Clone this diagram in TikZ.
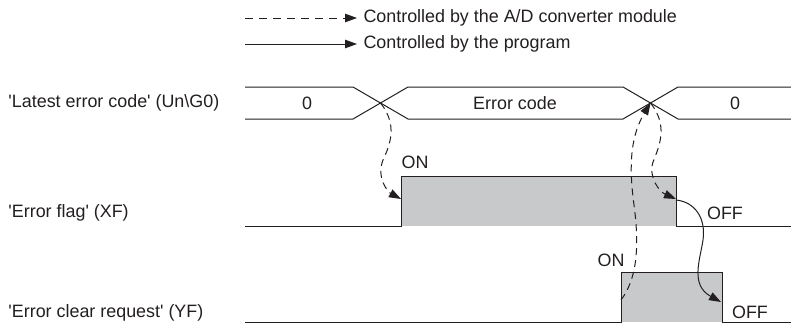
\documentclass[tikz,border=0pt]{standalone}
\usepackage{fontspec}
\newfontfamily\arialish{Liberation Sans}
\usetikzlibrary{arrows.meta}
\definecolor{ink}{RGB}{35,31,32}
\definecolor{fillg}{RGB}{200,201,202}
\begin{document}
\begin{tikzpicture}[x=1pt,y=-1pt,line width=1pt,draw=ink,
  font=\arialish\fontsize{17.9}{20}\selectfont,
  txt/.style={text=ink,inner sep=0pt},
  tip/.style={-{Triangle[length=12pt,width=8.5pt]}},
  dashline/.style={dash pattern=on 7pt off 5pt},
  legdash/.style={dash pattern=on 8pt off 6pt}]
\useasboundingbox (0,0) rectangle (791,324);
% legend
\coordinate (l1a) at (245,18); \coordinate (l1b) at (357,18);
\coordinate (l2a) at (245,44); \coordinate (l2b) at (357,44);
\draw[legdash,tip] (l1a) -- (l1b);
\draw[tip] (l2a) -- (l2b);
\node[txt,anchor=west] (leg1) at (363,18) {Controlled by the A/D converter module};
\node[txt,anchor=west] (leg2) at (363,44) {Controlled by the program};
% row labels
\node[txt,anchor=west] (lab1) at (8,103) {'Latest error code' (Un\textbackslash G0)};
\node[txt,anchor=west] (lab2) at (8,213) {'Error flag' (XF)};
\node[txt,anchor=west] (lab3) at (8,313) {'Error clear request' (YF)};
% bus
\draw (245,87) -- (353,87) -- (408,119) -- (623,119) -- (678,87) -- (791,87);
\draw (245,119) -- (353,119) -- (408,87) -- (623,87) -- (678,119) -- (791,119);
\coordinate (x1) at (380.5,103);
\coordinate (x2) at (650.5,103);
\node[txt] (v1) at (307,103) {0};
\node[txt] (v2) at (515,103) {Error code};
\node[txt] (v3) at (735,103) {0};
% error flag
\fill[fillg] (401,176) rectangle (676,226);
\draw (245,226) -- (401,226) -- (401,176) -- (676,176) -- (676,226) -- (791,226);
\node[txt] (on1) at (415,162) {ON};
\node[txt] (off1) at (725,213) {OFF};
% error clear request
\fill[fillg] (621,272) rectangle (722,322);
\draw (245,322) -- (621,322) -- (621,272) -- (722,272) -- (722,322) -- (791,322);
\node[txt] (on2) at (611,260) {ON};
\node[txt] (off2) at (750,312) {OFF};
% edge points
\coordinate (xfup) at (401,199);
\coordinate (xfdn) at (676,199);
\coordinate (xfdns) at (676,200);
\coordinate (yfup) at (621,300);
\coordinate (yfdn) at (721,302);
% connectors
\draw[dashline,tip] (x1) .. controls (398,125) and (390,145) .. (383,160)
   .. controls (376,178) and (388,192) .. (xfup);
\draw[dashline,tip] (yfup) .. controls (636,280) and (640,250) .. (634,205)
   .. controls (630,175) and (628,140) .. (x2);
\draw[dashline,tip] (x2) .. controls (668,125) and (660,145) .. (653,162)
   .. controls (648,178) and (660,192) .. (xfdn);
\draw[tip] (xfdns) .. controls (695,202) and (706,218) .. (703,240)
   .. controls (700,260) and (690,285) .. (yfdn);
\end{tikzpicture}
\end{document}
